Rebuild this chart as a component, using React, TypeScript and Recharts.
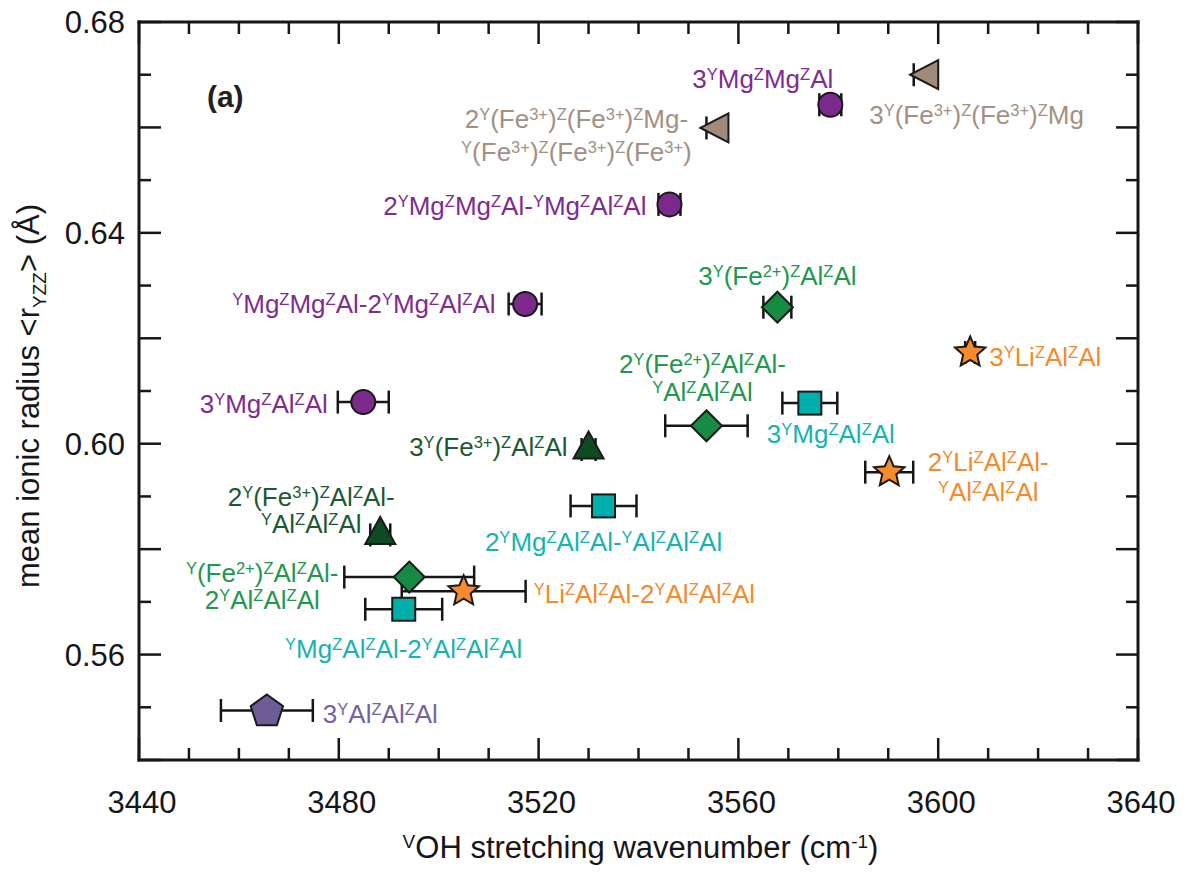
import React from "react";
import { ScatterChart, Scatter, XAxis, YAxis, ErrorBar, ReferenceDot } from "recharts";

const FONT = '"Liberation Sans", Arial, Helvetica, sans-serif';
const INK = "#161616";

// axis ticks: minor every 10 cm-1 / 0.01 A, labels below
const xTicks = [
  3440, 3450, 3460, 3470, 3480, 3490, 3500, 3510, 3520, 3530, 3540,
  3550, 3560, 3570, 3580, 3590, 3600, 3610, 3620, 3630, 3640,
];
const xTickLabels = [3440, 3480, 3520, 3560, 3600, 3640];
const yTicks = [
  0.54, 0.55, 0.56, 0.57, 0.58, 0.59, 0.6, 0.61, 0.62, 0.63, 0.64, 0.65, 0.66, 0.67, 0.68,
];
const yTickLabels = ["0.56", "0.60", "0.64", "0.68"];

// Mg-bearing configurations (purple circles)
const circleX = [3578.4, 3546.2, 3517.3, 3484.9];
const circleY = [0.6643, 0.6454, 0.6265, 0.6079];
const circleErr = [2.2, 2.2, 3.3, 5.1];
const circleLabels = [
  ["3^{Y}Mg^{Z}Mg^{Z}Al"],
  ["2^{Y}Mg^{Z}Mg^{Z}Al-^{Y}Mg^{Z}Al^{Z}Al"],
  ["^{Y}Mg^{Z}Mg^{Z}Al-2^{Y}Mg^{Z}Al^{Z}Al"],
  ["3^{Y}Mg^{Z}Al^{Z}Al"],
];

// Fe3+ with Mg (tan left triangles)
const tanX = [3597.2, 3555.2];
const tanY = [0.67, 0.6599];
const tanErr = [2.1, 1.6];
const tanLabels = [
  ["3^{Y}(Fe^{3+})^{Z}(Fe^{3+})^{Z}Mg"],
  ["2^{Y}(Fe^{3+})^{Z}(Fe^{3+})^{Z}Mg-", "^{Y}(Fe^{3+})^{Z}(Fe^{3+})^{Z}(Fe^{3+})"],
];

// Fe2+ (green diamonds)
const diamondX = [3567.8, 3553.6, 3494.1];
const diamondY = [0.6259, 0.6034, 0.5747];
const diamondErr = [2.8, 8.25, 13];
const diamondLabels = [
  ["3^{Y}(Fe^{2+})^{Z}Al^{Z}Al"],
  ["2^{Y}(Fe^{2+})^{Z}Al^{Z}Al-", "^{Y}Al^{Z}Al^{Z}Al"],
  ["^{Y}(Fe^{2+})^{Z}Al^{Z}Al-", "2^{Y}Al^{Z}Al^{Z}Al"],
];

// Fe3+ with Al (dark green triangles)
const darkTriX = [3530, 3488.3];
const darkTriY = [0.5989, 0.5827];
const darkTriErr = [1.4, 2];
const darkTriLabels = [
  ["3^{Y}(Fe^{3+})^{Z}Al^{Z}Al"],
  ["2^{Y}(Fe^{3+})^{Z}Al^{Z}Al-", "^{Y}Al^{Z}Al^{Z}Al"],
];

// Mg with Al (teal squares)
const squareX = [3574.3, 3533, 3493];
const squareY = [0.6077, 0.5882, 0.5686];
const squareErr = [5.5, 6.6, 7.7];
const squareLabels = [
  ["3^{Y}Mg^{Z}Al^{Z}Al"],
  ["2^{Y}Mg^{Z}Al^{Z}Al-^{Y}Al^{Z}Al^{Z}Al"],
  ["^{Y}Mg^{Z}Al^{Z}Al-2^{Y}Al^{Z}Al^{Z}Al"],
];

// Li (orange stars)
const starX = [3606.4, 3590.2, 3505];
const starY = [0.6173, 0.5946, 0.572];
const starErr = [1, 4.8, 12.4];
const starLabels = [
  ["3^{Y}Li^{Z}Al^{Z}Al"],
  ["2^{Y}Li^{Z}Al^{Z}Al-", "^{Y}Al^{Z}Al^{Z}Al"],
  ["^{Y}Li^{Z}Al^{Z}Al-2^{Y}Al^{Z}Al^{Z}Al"],
];

// pure Al (pentagon)
const pentaX = [3465.6];
const pentaY = [0.5494];
const pentaErr = [9.2];
const pentaLabels = [["3^{Y}Al^{Z}Al^{Z}Al"]];

const rows = (xs: number[], ys: number[], errs: number[], labels: string[][]) =>
  xs.map((x, i) => ({ i, wavenumber: x, radius: ys[i], err: errs[i], label: labels[i] }));

type Pos = { dx: number; dy: number[]; anchor: "start" | "middle" | "end" };

// where each label sits relative to its marker (px)
const labelPos: Record<string, Pos[]> = {
  circle: [
    { dx: 3, dy: [-17], anchor: "end" },
    { dx: -23, dy: [10.5], anchor: "end" },
    { dx: -29.6, dy: [9], anchor: "end" },
    { dx: -35.5, dy: [10.5], anchor: "end" },
  ],
  tan: [
    { dx: -55, dy: [49.3], anchor: "start" },
    { dx: -138, dy: [0, 33], anchor: "middle" },
  ],
  diamond: [
    { dx: 0, dy: [-22.5], anchor: "middle" },
    { dx: -4, dy: [-53, -24.3], anchor: "middle" },
    { dx: -147, dy: [4.5, 32], anchor: "middle" },
  ],
  darkTri: [
    { dx: -21, dy: [6.7], anchor: "end" },
    { dx: -69, dy: [-29, -1.7], anchor: "middle" },
  ],
  square: [
    { dx: 21, dy: [39.7], anchor: "middle" },
    { dx: 0, dy: [44.7], anchor: "middle" },
    { dx: 0, dy: [48.8], anchor: "middle" },
  ],
  star: [
    { dx: 19, dy: [13.7], anchor: "start" },
    { dx: 99, dy: [-1.3, 28.7], anchor: "middle" },
    { dx: 70, dy: [11.6], anchor: "start" },
  ],
  penta: [{ dx: 56, dy: [12.3], anchor: "start" }],
};

function rich(src: string, size: number, small: number) {
  const parts = src.split(/(\^\{[^}]*\}|_\{[^}]*\})/).filter(Boolean);
  let shift = 0;
  return parts.map((p, k) => {
    let target = 0;
    let text = p;
    let fs = size;
    if (p.startsWith("^{")) {
      target = -Math.round(size * 0.32);
      text = p.slice(2, -1);
      fs = small;
    } else if (p.startsWith("_{")) {
      target = Math.round(size * 0.24);
      text = p.slice(2, -1);
      fs = small;
    }
    const dy = target - shift;
    shift = target;
    return (
      <tspan key={k} dy={dy} fontSize={fs}>
        {text}
      </tspan>
    );
  });
}

function polyPoints(cx: number, cy: number, n: number, rOut: number, rIn: number, rot: number) {
  const pts: string[] = [];
  const step = rIn > 0 ? Math.PI / n : (2 * Math.PI) / n;
  const count = rIn > 0 ? n * 2 : n;
  for (let k = 0; k < count; k++) {
    const r = rIn > 0 && k % 2 === 1 ? rIn : rOut;
    const a = rot + k * step;
    pts.push(`${cx + r * Math.cos(a)},${cy + r * Math.sin(a)}`);
  }
  return pts.join(" ");
}

function marker(kind: string, cx: number, cy: number, fill: string) {
  const common = { fill, stroke: "#1a1a1a", strokeWidth: 2, strokeLinejoin: "miter" as const };
  switch (kind) {
    case "circle":
      return <circle cx={cx} cy={cy} r={12} {...common} />;
    case "square":
      return <rect x={cx - 11.5} y={cy - 11.5} width={23} height={23} {...common} />;
    case "diamond":
      return (
        <polygon
          points={`${cx},${cy - 15.5} ${cx + 15.5},${cy} ${cx},${cy + 15.5} ${cx - 15.5},${cy}`}
          {...common}
        />
      );
    case "triUp":
      return (
        <polygon points={`${cx},${cy - 18} ${cx + 15},${cy + 9} ${cx - 15},${cy + 9}`} {...common} />
      );
    case "triLeft":
      return (
        <polygon
          points={`${cx - 14},${cy} ${cx + 14},${cy - 14.5} ${cx + 14},${cy + 14.5}`}
          {...common}
        />
      );
    case "star":
      return <polygon points={polyPoints(cx, cy, 5, 16, 7.4, -Math.PI / 2)} {...common} />;
    case "pentagon":
      return <polygon points={polyPoints(cx, cy + 1, 5, 17, 0, -Math.PI / 2)} {...common} />;
    default:
      return null;
  }
}

function makeShape(series: string, kind: string, fill: string, textColor: string) {
  return (props: any) => {
    const { cx, cy, payload } = props;
    const pos = labelPos[series][payload.i];
    return (
      <g>
        {marker(kind, cx, cy, fill)}
        {payload.label.map((line: string, li: number) => (
          <text
            key={li}
            x={cx + pos.dx}
            y={cy + pos.dy[li]}
            textAnchor={pos.anchor}
            fontFamily={FONT}
            fontSize={26}
            fill={textColor}
          >
            {rich(line, 26, 16.5)}
          </text>
        ))}
      </g>
    );
  };
}

const axisStyle = { stroke: INK, strokeWidth: 3, strokeLinecap: "square" as const };
const isMajorX = (v: number) => Math.round(v) % 40 === 0;
const isLongY = (v: number) => Math.round(v * 100) % 2 === 0;

const BottomTick = (p: any) => {
  const v = p.payload.value;
  const major = isMajorX(v);
  return (
    <g>
      <line x1={p.x} x2={p.x} y1={p.y} y2={p.y - (major ? 22 : 12)} stroke={INK} strokeWidth={2.5} />
      {xTickLabels.includes(Math.round(v)) && (
        <text x={p.x + 3} y={p.y + 53} textAnchor="middle" fontFamily={FONT} fontSize={31} fill={INK}>
          {v}
        </text>
      )}
    </g>
  );
};

const TopTick = (p: any) => {
  const major = isMajorX(p.payload.value);
  return <line x1={p.x} x2={p.x} y1={p.y} y2={p.y + (major ? 22 : 12)} stroke={INK} strokeWidth={2.5} />;
};

const LeftTick = (p: any) => {
  const v = p.payload.value;
  const txt = v.toFixed(2);
  return (
    <g>
      <line x1={p.x} x2={p.x + (isLongY(v) ? 22 : 12)} y1={p.y} y2={p.y} stroke={INK} strokeWidth={2.5} />
      {yTickLabels.includes(txt) && (
        <text x={p.x - 14} y={p.y + 11} textAnchor="end" fontFamily={FONT} fontSize={31} fill={INK}>
          {txt}
        </text>
      )}
    </g>
  );
};

const RightTick = (p: any) => {
  const v = p.payload.value;
  return <line x1={p.x} x2={p.x - (isLongY(v) ? 22 : 12)} y1={p.y} y2={p.y} stroke={INK} strokeWidth={2.5} />;
};

const XTitle = (props: any) => {
  const vb = props.viewBox;
  return (
    <text x={vb.x + vb.width / 2 + 2} y={vb.y + 98} textAnchor="middle" fontFamily={FONT} fontSize={31} fill={INK}>
      {rich("^{V}OH stretching wavenumber (cm^{-1})", 31, 19)}
    </text>
  );
};

const YTitle = (props: any) => {
  const vb = props.viewBox;
  const x = vb.x + 39;
  const y = vb.y + vb.height / 2 + 5;
  return (
    <text x={x} y={y} transform={`rotate(-90, ${x}, ${y})`} textAnchor="middle" fontFamily={FONT} fontSize={31} fill={INK}>
      {rich("mean ionic radius <r_{YZZ}> (Å)", 31, 19)}
    </text>
  );
};

const PanelTag = (props: any) => {
  const vb = props.viewBox;
  return (
    <text x={vb.x} y={vb.y} fontFamily={FONT} fontSize={30} fontWeight="bold" fill="#231f20">
      (a)
    </text>
  );
};

const seriesDefs = [
  { key: "star", kind: "star", fill: "#F68B2D", text: "#F58A2C", data: rows(starX, starY, starErr, starLabels) },
  { key: "penta", kind: "pentagon", fill: "#6F5B96", text: "#76629F", data: rows(pentaX, pentaY, pentaErr, pentaLabels) },
  { key: "circle", kind: "circle", fill: "#7B2A8C", text: "#7E2C8F", data: rows(circleX, circleY, circleErr, circleLabels) },
  { key: "tan", kind: "triLeft", fill: "#A08A7A", text: "#A39083", data: rows(tanX, tanY, tanErr, tanLabels) },
  { key: "darkTri", kind: "triUp", fill: "#0E4A22", text: "#1B5A31", data: rows(darkTriX, darkTriY, darkTriErr, darkTriLabels) },
  { key: "diamond", kind: "diamond", fill: "#178A44", text: "#20984D", data: rows(diamondX, diamondY, diamondErr, diamondLabels) },
  { key: "square", kind: "square", fill: "#00AFAA", text: "#17B4AF", data: rows(squareX, squareY, squareErr, squareLabels) },
];

const frameAxis = {
  type: "number" as const,
  interval: 0 as const,
  tickSize: 0,
  tickMargin: 0,
  tickLine: false,
  axisLine: axisStyle,
  allowDataOverflow: true,
};

export default function App() {
  return (
    <div style={{ position: "absolute", left: 0, top: 0, width: 1184, height: 873, background: "#fff" }}>
      <ScatterChart width={1184} height={873} margin={{ top: 21, right: 45, bottom: 0, left: 0 }}>
        <XAxis
          {...frameAxis}
          xAxisId="b"
          dataKey="wavenumber"
          domain={[3440, 3640]}
          ticks={xTicks}
          height={113}
          tick={(p: any) => <BottomTick {...p} />}
          label={{ content: (p: any) => <XTitle {...p} /> }}
        />
        <XAxis
          {...frameAxis}
          xAxisId="t"
          orientation="top"
          dataKey="wavenumber"
          domain={[3440, 3640]}
          ticks={xTicks}
          height={1}
          tick={(p: any) => <TopTick {...p} />}
        />
        <YAxis
          {...frameAxis}
          yAxisId="l"
          dataKey="radius"
          domain={[0.54, 0.68]}
          ticks={yTicks}
          width={139}
          tick={(p: any) => <LeftTick {...p} />}
          label={{ content: (p: any) => <YTitle {...p} /> }}
        />
        <YAxis
          {...frameAxis}
          yAxisId="r"
          orientation="right"
          dataKey="radius"
          domain={[0.54, 0.68]}
          ticks={yTicks}
          width={1}
          tick={(p: any) => <RightTick {...p} />}
        />
        {/* invisible series that keeps the top/right frame axes alive */}
        <Scatter
          xAxisId="t"
          yAxisId="r"
          data={seriesDefs[1].data}
          isAnimationActive={false}
          shape={() => <g />}
        />
        {seriesDefs.map((s) => (
          <Scatter
            key={s.key}
            xAxisId="b"
            yAxisId="l"
            data={s.data}
            fill={s.fill}
            isAnimationActive={false}
            shape={makeShape(s.key, s.kind, s.fill, s.text)}
          >
            <ErrorBar dataKey="err" direction="x" width={11.5} stroke={INK} strokeWidth={2.5} isAnimationActive={false} />
          </Scatter>
        ))}
        <ReferenceDot
          xAxisId="b"
          yAxisId="l"
          x={3453.6}
          y={0.6639}
          r={0}
          fill="none"
          stroke="none"
          label={{ content: (p: any) => <PanelTag {...p} /> }}
        />
      </ScatterChart>
    </div>
  );
}
